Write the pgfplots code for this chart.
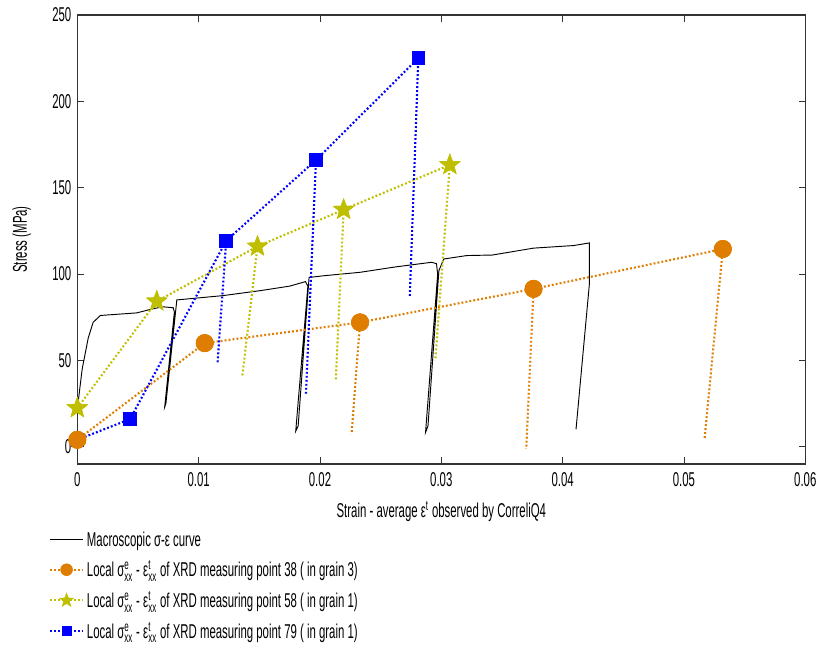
\documentclass[border=0pt]{standalone}
\usepackage{fontspec}
\setmainfont{Liberation Sans}[FakeStretch=0.57]
\usepackage{amsmath}
\usepackage{pgfplots}
\pgfplotsset{compat=1.18}
\definecolor{mOrange}{RGB}{222,125,0}
\definecolor{mYellow}{RGB}{191,191,0}
\definecolor{mBlue}{RGB}{0,0,255}
\newcommand{\supsub}[2]{$^{\text{#1}}_{\text{#2}}$}
\pgfdeclareplotmark{fstar}{%
  \pgfpathmoveto{\pgfpointpolar{90}{\pgfplotmarksize}}%
  \pgfpathlineto{\pgfpointpolar{126}{0.42\pgfplotmarksize}}%
  \pgfpathlineto{\pgfpointpolar{162}{\pgfplotmarksize}}%
  \pgfpathlineto{\pgfpointpolar{198}{0.42\pgfplotmarksize}}%
  \pgfpathlineto{\pgfpointpolar{234}{\pgfplotmarksize}}%
  \pgfpathlineto{\pgfpointpolar{270}{0.42\pgfplotmarksize}}%
  \pgfpathlineto{\pgfpointpolar{306}{\pgfplotmarksize}}%
  \pgfpathlineto{\pgfpointpolar{342}{0.42\pgfplotmarksize}}%
  \pgfpathlineto{\pgfpointpolar{18}{\pgfplotmarksize}}%
  \pgfpathlineto{\pgfpointpolar{54}{0.42\pgfplotmarksize}}%
  \pgfpathclose
  \pgfusepathqfillstroke}
\begin{document}
\begin{tikzpicture}
\begin{axis}[name=ax, scale only axis, width=546pt, height=336.75pt,
  xmin=0, xmax=0.06, ymin=-10, ymax=250,
  scaled x ticks=false,
  xtick={0,0.01,0.02,0.03,0.04,0.05,0.06},
  xticklabels={0,0.01,0.02,0.03,0.04,0.05,0.06},
  ytick={0,50,100,150,200,250},
  tick align=inside, major tick length=5pt,
  axis line style={line width=0.8pt, black!80},
  tick style={line width=0.6pt, black!80},
  font=\fontsize{15}{17}\selectfont,
  /pgf/number format/assume math mode=true,
  xticklabel style={yshift=-3pt},
  yticklabel style={xshift=-1pt},
  xlabel={Strain - average ε\textsuperscript{t} observed by CorreliQ4},
  ylabel={Stress (MPa)},
  xlabel style={yshift=-4pt},
  ylabel style={yshift=9pt},
  legend style={draw=none, fill=none, at={(axis description cs:-0.045,-0.138)}, anchor=north west,
    font=\fontsize{15}{17}\selectfont, row sep=5.5pt, legend cell align=left},
  legend image code/.code={\draw[mark repeat=2,mark phase=2, every mark/.append style={scale=0.68}] plot coordinates {(0pt,0pt)(12.5pt,0pt)(25pt,0pt)};},
  mydot/.style={line width=1.6pt, dash pattern=on 1.4pt off 1.6pt},
]
% macroscopic curve
\addplot[black, line width=0.7pt] coordinates {
(0,22) (0.0004,45) (0.0009,63) (0.0013,72) (0.0019,76) (0.0049,77.5) (0.0063,80) (0.0071,81) (0.0079,80.5) (0.0080,78) (0.0072,23) (0.0073,25) (0.0082,85)
(0.0120,87.5) (0.0151,90.4) (0.0175,93) (0.0188,95.6) (0.0190,93) (0.0180,9) (0.0182,12) (0.0191,98)
(0.0203,99) (0.0233,101) (0.0261,104) (0.0283,106) (0.0292,106.8) (0.0296,106) (0.0297,100) (0.0287,8.3) (0.0289,12) (0.0298,102)
(0.0302,108.7) (0.0321,110.7) (0.0342,111) (0.0376,115) (0.0409,116.5) (0.0422,118) (0.0422,94) (0.0411,10)
};
\addlegendentry{Macroscopic σ-ε curve}
% point 38
\addplot[mOrange, mydot, mark=*, mark size=6.5pt, mark options={solid, fill=mOrange, draw=mOrange, line width=0.5pt}] coordinates {
(0,4) (0.0105,60) (0.0233,72) (0.0376,91.4) (0.0532,114.5)
};
\addlegendentry{Local σ\supsub{e}{xx} - ε\supsub{t}{xx} of XRD measuring point 38 ( in grain 3)}
% point 58
\addplot[mYellow, mydot, mark=fstar, mark size=8pt, mark options={solid, fill=mYellow, draw=mYellow, line width=0.4pt}] coordinates {
(0,22.4) (0.00655,84.2) (0.01485,116) (0.02195,137.3) (0.0307,163.2)
};
\addlegendentry{Local σ\supsub{e}{xx} - ε\supsub{t}{xx} of XRD measuring point 58 ( in grain 1)}
% point 79
\addplot[mBlue, mydot, mark=square*, mark size=4.8pt, mark options={solid, fill=mBlue, line width=0.5pt}] coordinates {
(0,4) (0.00435,16) (0.01227,119.3) (0.01967,166) (0.0281,225)
};
\addlegendentry{Local σ\supsub{e}{xx} - ε\supsub{t}{xx} of XRD measuring point 79 ( in grain 1)}
% unloading drops
\addplot[mOrange, mydot, forget plot] coordinates {(0.0233,72) (0.0226,7.3)};
\addplot[mOrange, mydot, forget plot] coordinates {(0.0376,91.4) (0.0370,-1.3)};
\addplot[mOrange, mydot, forget plot] coordinates {(0.0532,114.5) (0.0517,5)};
\addplot[mYellow, mydot, forget plot] coordinates {(0.01485,116) (0.0136,41)};
\addplot[mYellow, mydot, forget plot] coordinates {(0.02195,137.3) (0.0213,38)};
\addplot[mYellow, mydot, forget plot] coordinates {(0.0307,163.2) (0.0295,50)};
\addplot[mBlue, mydot, forget plot] coordinates {(0.01227,119.3) (0.01155,48)};
\addplot[mBlue, mydot, forget plot] coordinates {(0.01967,166) (0.01884,30.5)};
\addplot[mBlue, mydot, forget plot] coordinates {(0.0281,225) (0.0279,185) (0.0274,87)};
% redraw markers on top
\addplot[only marks, mOrange, mark=*, mark size=6.5pt, mark options={fill=mOrange}, forget plot] coordinates {(0,4) (0.0105,60) (0.0233,72) (0.0376,91.4) (0.0532,114.5)};
\addplot[only marks, mYellow, mark=fstar, mark size=8pt, mark options={fill=mYellow, line width=0.4pt}, forget plot] coordinates {(0,22.4) (0.00655,84.2) (0.01485,116) (0.02195,137.3) (0.0307,163.2)};
\addplot[only marks, mBlue, mark=square*, mark size=4.8pt, forget plot] coordinates {(0.00435,16) (0.01227,119.3) (0.01967,166) (0.0281,225)};
\end{axis}
\pgfresetboundingbox
\path (ax.south west) ++(-58pt,-138pt) rectangle ++(616.5pt,486pt);
\end{tikzpicture}
\end{document}
